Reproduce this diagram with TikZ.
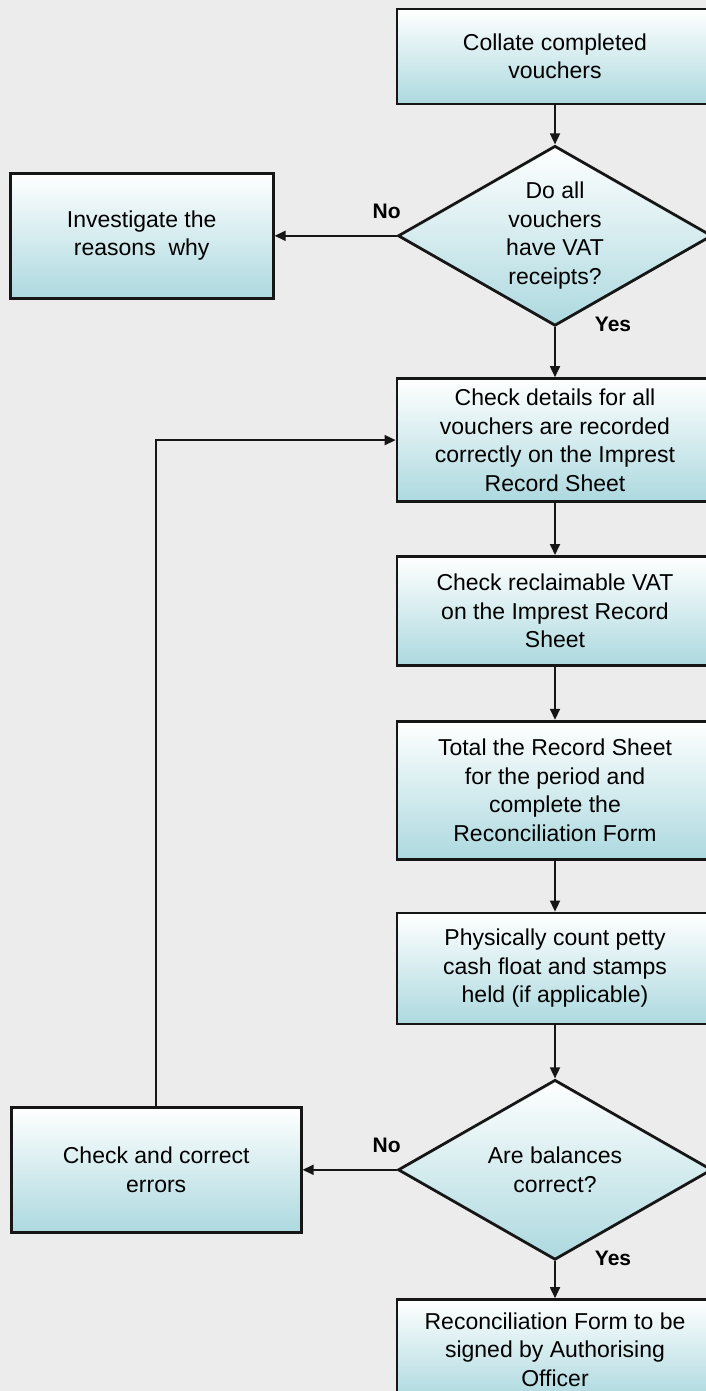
\documentclass[tikz,border=0pt]{standalone}
\usepackage{fontspec}
\setmainfont{Liberation Sans}
\usetikzlibrary{positioning, shapes.geometric, arrows.meta}
\definecolor{boxcyan}{RGB}{172,217,223}
\definecolor{bggray}{RGB}{236,236,236}
\definecolor{edge}{RGB}{22,22,22}

\begin{document}
\begin{tikzpicture}[x=1pt, y=-1pt,
mybox/.style={rectangle,
  draw=edge,
  line width=2.8pt,
  top color=white,
  bottom color=boxcyan,
  align=center,
  inner sep=0pt,
  font=\fontsize{23}{28.5}\selectfont,
},
stepbox/.style={mybox,
  minimum width=316pt,
},
decision/.style={mybox,
  diamond,
  aspect=1.74,
  minimum width=314pt,
  minimum height=180pt,
},
mylabel/.style={font=\bfseries\fontsize{21}{21}\selectfont},
link/.style={->, line width=1.7pt, edge},
>={Triangle[length=11pt,width=10pt]}
]
\useasboundingbox (0,0) rectangle (706,1391);
\clip (0,0) rectangle (706,1391);
\fill[bggray] (0,0) rectangle (706,1391);

\node[stepbox, minimum height=95pt] (collate) at (555,56.5)
    {Collate completed\\vouchers};
\node[decision, below=39pt of collate] (vat)
    {Do all\\vouchers\\have VAT\\receipts?};
\node[mybox, minimum width=263pt, minimum height=125pt, left=122pt of vat] (why)
    {Investigate the\\reasons~~why};
\node[stepbox, minimum height=123pt, below=50pt of vat] (details)
    {Check details for all\\vouchers are recorded\\correctly on the Imprest\\Record Sheet};
\node[stepbox, minimum height=109pt, below=52pt of details] (reclaim)
    {Check reclaimable VAT\\on the Imprest Record\\Sheet};
\node[stepbox, minimum height=138pt, below=53pt of reclaim] (total)
    {Total the Record Sheet\\for the period and\\complete the\\Reconciliation Form};
\node[stepbox, minimum height=111pt, below=51pt of total] (count)
    {Physically count petty\\cash float and stamps\\held (if applicable)};
\node[decision, below=53pt of count] (bal)
    {Are balances\\correct?};
\node[mybox, minimum width=290pt, minimum height=125pt, left=94pt of bal] (errors)
    {Check and correct\\errors};
\node[stepbox, minimum height=100pt, below=37pt of bal] (sign)
    {Reconciliation Form to be\\signed by Authorising\\Officer};

\node[mylabel] (no1) at ([shift={(-10,-24)}]vat.west) {No};
\node[mylabel] (yes1) at ([shift={(58,-3)}]vat.south) {Yes};
\node[mylabel] (no2) at ([shift={(-10,-24)}]bal.west) {No};
\node[mylabel] (yes2) at ([shift={(58,-3)}]bal.south) {Yes};

\draw[link] (collate) -- (vat);
\draw[link] (vat.west) -- (why);
\draw[link] (vat.south) -- (details);
\draw[link] (details) -- (reclaim);
\draw[link] (reclaim) -- (total);
\draw[link] (total) -- (count);
\draw[link] (count) -- (bal);
\draw[link] (bal.west) -- (errors);
\draw[link] (bal.south) -- (sign);
\draw[link] (errors.north) -- (errors.north |- details.west) -- (details.west);
\end{tikzpicture}
\end{document}
